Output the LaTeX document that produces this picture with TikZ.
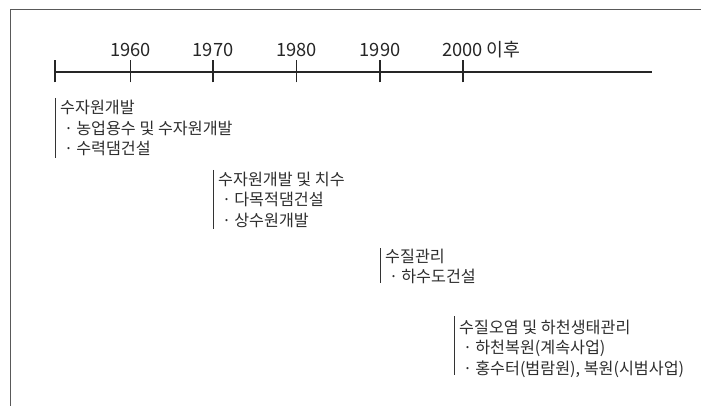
\documentclass[tikz,border=0pt]{standalone}
\usepackage{fontspec}
\setmainfont{Noto Sans CJK KR}
\newcommand{\itm}{\hspace{4pt}·\hspace{3pt}}
\begin{document}
\begin{tikzpicture}[x=1pt,y=-1pt,
  frame/.style={draw=black!65,line width=0.9pt},
  axis/.style={draw=black!85,line width=1.1pt},
  year/.style={font=\fontsize{18.3}{20}\selectfont,text=black!85,inner sep=0pt},
  block/.style={font=\fontsize{16.2}{20.7}\selectfont,text=black!82,align=left,anchor=north west,inner xsep=0pt,inner ysep=0pt},
  bar/.style={draw=black!80,line width=0.9pt}]
\useasboundingbox (0,0) rectangle (701,406);
% frame
\draw[frame] (10,406) -- (10,9) -- (701,9);
% timeline
\coordinate (s) at (55,72);
\coordinate (e) at (652,72);
\coordinate (t1) at (130.5,72);
\coordinate (t2) at (213,72);
\coordinate (t3) at (296.5,72);
\coordinate (t4) at (380,72);
\coordinate (t5) at (463,72);
\draw[axis] (s) -- (e);
\foreach \t in {s,t1,t2,t3,t4,t5}
  \draw[axis] ([yshift=-10.5pt]\t) -- ([yshift=11.5pt]\t);
\node[year] (y1) at (130.5,50) {1960};
\node[year] (y2) at (213,50) {1970};
\node[year] (y3) at (296.5,50) {1980};
\node[year] (y4) at (380,50) {1990};
\node[year,anchor=west] (y5) at (442,50) {2000 이후};
% blocks
\node[block] (b1) at (60,100) {수자원개발\\\itm 농업용수 및 수자원개발\\\itm 수력댐건설};
\draw[bar] (55,98) -- (55,158);
\node[block] (b2) at (218,171.5) {수자원개발 및 치수\\\itm 다목적댐건설\\\itm 상수원개발};
\draw[bar] (213,170) -- (213,229);
\node[block] (b3) at (385,248.5) {수질관리\\\itm 하수도건설};
\draw[bar] (380,248) -- (380,283);
\node[block] (b4) at (459,319.5) {수질오염 및 하천생태관리\\\itm 하천복원(계속사업)\\\itm 홍수터(범람원), 복원(시범사업)};
\draw[bar] (454,316) -- (454,375);
\end{tikzpicture}
\end{document}
